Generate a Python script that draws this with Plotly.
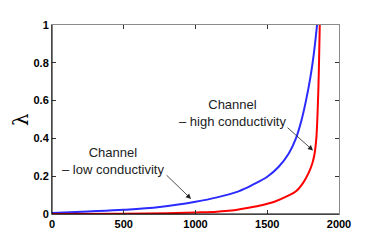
import plotly.graph_objects as go

# Blue curve: channel - low conductivity
x_low = [0, 250, 500, 750, 1000, 1150, 1300, 1400, 1500, 1580, 1650, 1700, 1740, 1770, 1800, 1825, 1847]
y_low = [0.005, 0.013, 0.022, 0.037, 0.065, 0.088, 0.12, 0.155, 0.197, 0.25, 0.32, 0.40, 0.50, 0.60, 0.72, 0.85, 1.0]

# Red curve: channel - high conductivity
x_high = [0, 500, 800, 1000, 1150, 1250, 1350, 1450, 1550, 1650, 1700, 1750, 1790, 1815, 1830, 1842, 1850, 1857, 1862, 1866]
y_high = [0.0, 0.001, 0.004, 0.008, 0.012, 0.018, 0.03, 0.045, 0.065, 0.098, 0.12, 0.165, 0.22, 0.27, 0.32, 0.40, 0.52, 0.68, 0.85, 1.0]

x_ticks = [0, 500, 1000, 1500, 2000]
y_ticks = [0, 0.2, 0.4, 0.6, 0.8, 1]
y_tick_labels = ["0", "0.2", "0.4", "0.6", "0.8", "1"]

fig = go.Figure()
fig.add_trace(go.Scatter(x=x_low, y=y_low, mode="lines", line=dict(color="#2b2bff", width=2, shape="spline"), showlegend=False))
fig.add_trace(go.Scatter(x=x_high, y=y_high, mode="lines", line=dict(color="#ff0000", width=2, shape="spline"), showlegend=False))

axis_common = dict(showgrid=False, zeroline=False, ticks="inside", ticklen=4, tickcolor="#333",
                   showline=True, linecolor="#8a8a8a", linewidth=1, mirror="ticks",
                   tickfont=dict(family="Liberation Sans", size=11, color="black", weight="bold"))
fig.update_xaxes(range=[0, 2000], tickvals=x_ticks, **axis_common)
fig.update_yaxes(range=[0, 1], tickvals=y_ticks, ticktext=y_tick_labels, **axis_common)

# darker left and bottom axis lines
fig.add_shape(type="line", xref="paper", yref="paper", x0=0, x1=0, y0=0, y1=1, line=dict(color="black", width=1))
fig.add_shape(type="line", xref="paper", yref="paper", x0=0, x1=1, y0=0, y1=0, line=dict(color="black", width=1))

afont = dict(family="Liberation Sans", size=13, color="#222")
fig.add_annotation(x=969, y=0.08, ax=788, ay=0.213, axref="x", ayref="y", xref="x", yref="y",
                   text="", showarrow=True, arrowhead=2, arrowsize=1.3, arrowwidth=0.8, arrowcolor="#222")
fig.add_annotation(x=1819, y=0.336, ax=1631, ay=0.464, axref="x", ayref="y", xref="x", yref="y",
                   text="", showarrow=True, arrowhead=2, arrowsize=1.3, arrowwidth=0.8, arrowcolor="#222")
fig.add_annotation(x=422, y=0.282, xref="x", yref="y", text="Channel<br>– low conductivity",
                   showarrow=False, font=afont, align="center")
fig.add_annotation(x=1261, y=0.536, xref="x", yref="y", text="Channel<br>– high conductivity",
                   showarrow=False, font=afont, align="center")
fig.add_annotation(x=-0.11, y=0.5, xref="paper", yref="paper", text="λ", showarrow=False,
                   xanchor="center", yanchor="middle", textangle=-90, borderpad=0,
                   font=dict(family="DejaVu Serif", size=20, color="black"))

fig.update_layout(width=366, height=233, margin=dict(l=44, r=35, t=11, b=27),
                  plot_bgcolor="white", paper_bgcolor="white")

fig.write_html("out.html")
